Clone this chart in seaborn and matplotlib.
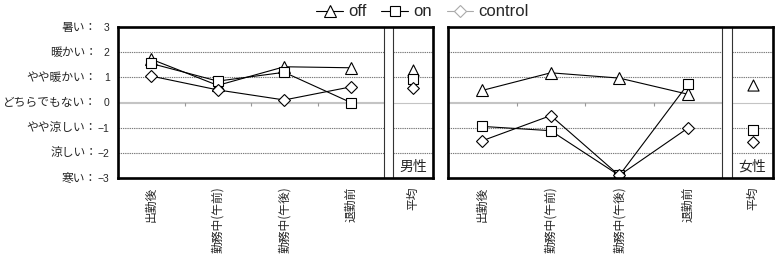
import matplotlib
matplotlib.use("Agg")
import matplotlib.pyplot as plt
from matplotlib.lines import Line2D
import seaborn as sns
import pandas as pd

sns.set_style("white")
plt.rcParams['font.family'] = ['Liberation Sans', 'Noto Sans CJK JP', 'DejaVu Sans']
plt.rcParams['axes.unicode_minus'] = True

categories = ["出勤後", "勤務中(午前)", "勤務中(午後)", "退勤前"]
avg_label = ["平均"]
series = ["off", "on", "control"]
y_ticks = [3, 2, 1, 0, -1, -2, -3]
y_names = ["暑い：", "暖かい：", "やや暖かい：", "どちらでもない：", "やや涼しい：", "涼しい：", "寒い："]

male_off = [1.72, 0.68, 1.42, 1.38]
male_on = [1.55, 0.85, 1.2, 0.0]
male_control = [1.05, 0.5, 0.1, 0.62]
male_avg = [1.28, 0.95, 0.58]

female_off = [0.48, 1.18, 0.97, 0.33]
female_on = [-0.95, -1.12, -2.9, 0.72]
female_control = [-1.52, -0.52, -2.9, -1.02]
female_avg = [0.69, -1.08, -1.55]

group_names = ["男性", "女性"]

markers = {"off": "^", "on": "s", "control": "D"}
msize = {"off": 8, "on": 7.5, "control": 6}

CJK = ["Noto Sans CJK JP", "DejaVu Sans"]

W, H = 775, 264
fig = plt.figure(figsize=(W / 100, H / 100), dpi=100)

def fx(px):
    return px / W

y_top, y_bot = 27, 178
ax_b = 1 - y_bot / H
ax_h = (y_bot - y_top) / H

panels = [
    dict(main=(118, 384), avg=(393, 433), vals=[male_off, male_on, male_control], avg_vals=male_avg,
         name=group_names[0], ylabels=True),
    dict(main=(448, 722), avg=(732, 773), vals=[female_off, female_on, female_control], avg_vals=female_avg,
         name=group_names[1], ylabels=False),
]

grid_kw = dict(color="#7a7a7a", linewidth=0.8, linestyle=(0, (1.2, 0.8)))

def style_axis(ax):
    ax.set_ylim(-3, 3)
    ax.set_yticks(y_ticks)
    ax.grid(False)
    for v in [2, 1, -1, -2]:
        ax.axhline(v, **grid_kw, zorder=0)
    ax.axhline(0, color="#c4c4c4", linewidth=0.8, zorder=0)
    for s in ax.spines.values():
        s.set_visible(True)
        s.set_linewidth(0.8)
        s.set_color("#333333")
    ax.tick_params(axis="y", length=0)
    ax.set_xlabel("")
    ax.set_ylabel("")

for p in panels:
    m0, m1 = p["main"]
    a0, a1 = p["avg"]
    ax = fig.add_axes([fx(m0), ax_b, fx(m1 - m0), ax_h])
    ax.set_facecolor("none")
    df = pd.DataFrame({
        "cat": list(range(len(categories))) * 3,
        "val": p["vals"][0] + p["vals"][1] + p["vals"][2],
        "series": sum([[s] * len(categories) for s in series], []),
    })
    for s in series:
        sub = df[df["series"] == s]
        sns.lineplot(data=sub, x="cat", y="val", ax=ax, color="black", linewidth=0.8,
                     marker=markers[s], markersize=msize[s], markerfacecolor="white",
                     markeredgecolor="black", markeredgewidth=0.8, legend=False, zorder=3)
    style_axis(ax)
    ax.set_xlim(-0.5, len(categories) - 0.5)
    ax.set_xticks(range(len(categories)))
    ax.set_xticklabels(categories, rotation=90, fontsize=8.5, va="top", ha="center", family=CJK)
    ax.tick_params(axis="x", length=0, pad=6)
    # boundary tick marks at y=0
    sec = ax.secondary_xaxis(0.5)
    sec.set_xticks([i + 0.5 for i in range(len(categories) - 1)])
    sec.set_xticklabels([])
    sec.tick_params(axis="x", direction="in", length=3, color="#999999", width=0.8,
                    labelbottom=False, labeltop=False)
    for sp in sec.spines.values():
        sp.set_color("#c4c4c4")
        sp.set_linewidth(0.8)
    if p["ylabels"]:
        ax.set_yticklabels([f"{t}".replace("-", "\u2212") for t in y_ticks], fontsize=7.5)
        ax.tick_params(axis="y", pad=6)
        for t, nm in zip(y_ticks, y_names):
            ax.annotate(nm, xy=(0, t), xycoords=("axes fraction", "data"),
                        xytext=(-15, 0), textcoords="offset points",
                        ha="right", va="center", fontsize=8.5, family=CJK)
    else:
        ax.set_yticklabels([])

    # average box
    axa = fig.add_axes([fx(a0), ax_b, fx(a1 - a0), ax_h])
    axa.set_facecolor("none")
    for s, v in zip(series, p["avg_vals"]):
        sns.scatterplot(x=[0], y=[v], ax=axa, marker=markers[s], s=msize[s] ** 2,
                        color="white", edgecolor="black", linewidth=0.8, legend=False, zorder=3)
    style_axis(axa)
    axa.set_xlim(-0.5, 0.5)
    axa.set_xticks([0])
    axa.set_xticklabels(avg_label, rotation=90, fontsize=8.5, va="top", ha="center", family=CJK)
    axa.tick_params(axis="x", length=0, pad=6)
    axa.set_yticklabels([])
    axa.text(0.5, 0.075, p["name"], transform=axa.transAxes, ha="center", va="center",
             fontsize=10, family=CJK, zorder=5)

    # outer thick frame
    axf = fig.add_axes([fx(m0), ax_b, fx(a1 - m0), ax_h])
    axf.set_facecolor("none")
    axf.set_xticks([])
    axf.set_yticks([])
    for s in axf.spines.values():
        s.set_visible(True)
        s.set_linewidth(1.9)
        s.set_color("black")
    axf.set_zorder(10)

handles = [
    Line2D([], [], color="black", lw=0.8, marker="^", ms=8, mfc="white", mec="black", mew=0.8),
    Line2D([], [], color="black", lw=0.8, marker="s", ms=7.5, mfc="white", mec="black", mew=0.8),
    Line2D([], [], color="#aaaaaa", lw=0.8, marker="D", ms=6, mfc="white", mec="#aaaaaa", mew=0.8),
]
fig.legend(handles, series, loc="center", bbox_to_anchor=(0.545, 0.955), ncol=3, frameon=False,
           fontsize=12, handlelength=1.6, handletextpad=0.3, columnspacing=0.9, borderpad=0)

fig.savefig("out.png", dpi=100)
